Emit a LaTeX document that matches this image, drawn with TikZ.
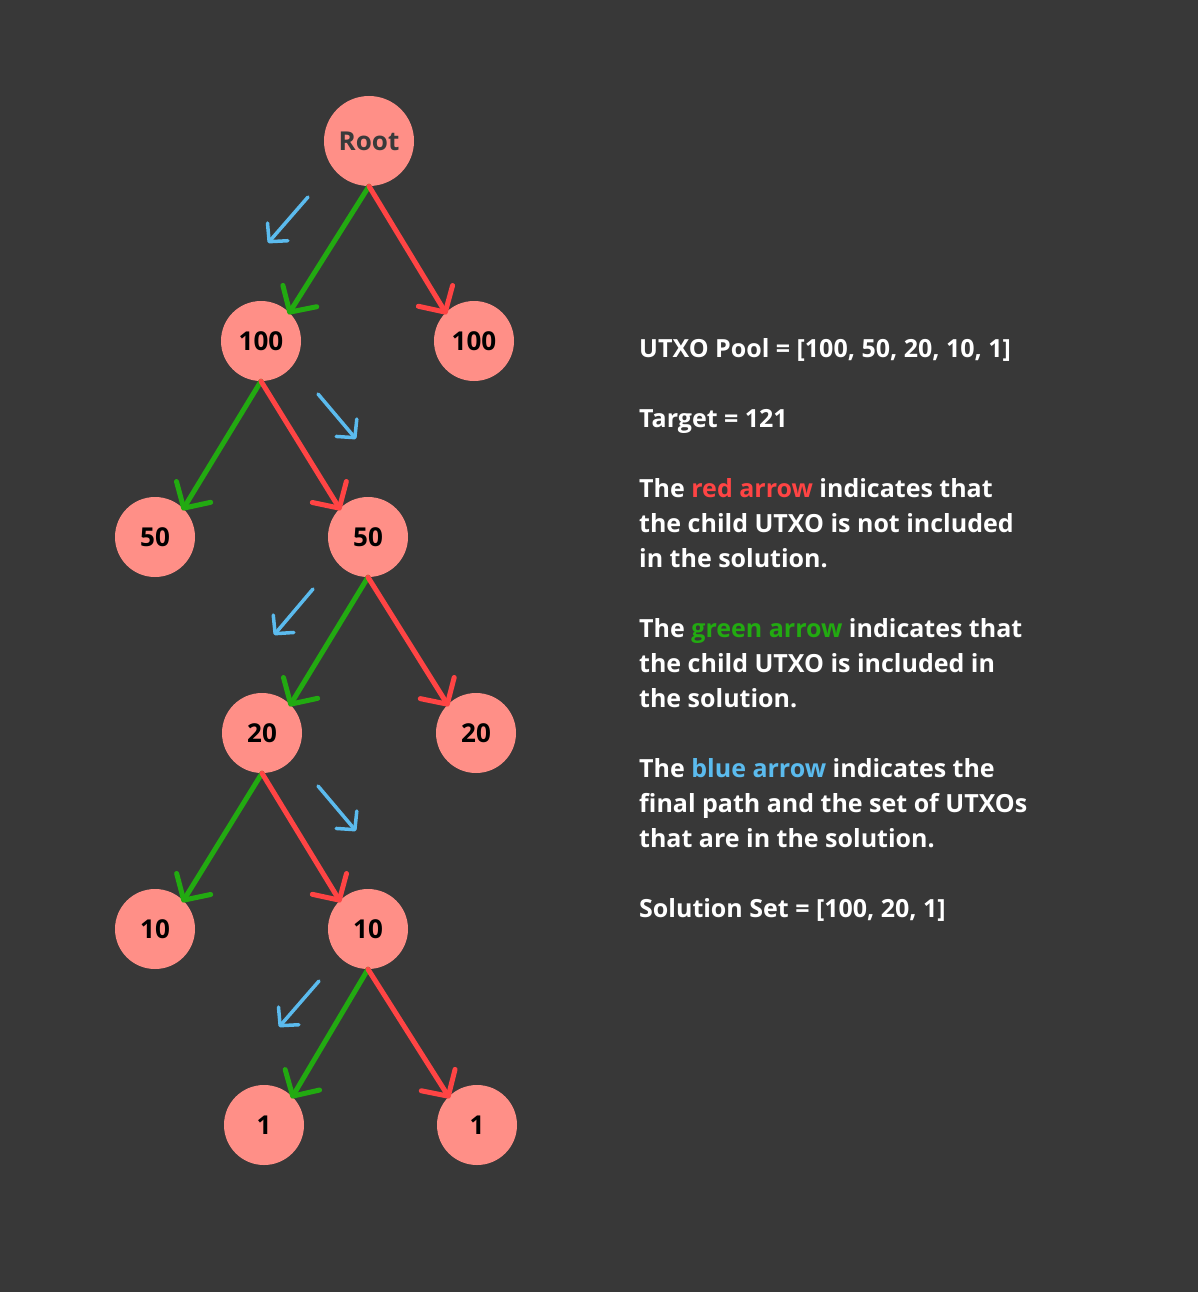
\documentclass[tikz,border=0pt]{standalone}
\usepackage{fontspec}
\setmainfont{Open Sans}
\usetikzlibrary{arrows.meta}
\definecolor{bg}{HTML}{383838}
\definecolor{nodefill}{HTML}{FF8F87}
\definecolor{gr}{HTML}{22AA11}
\definecolor{rd}{HTML}{FF4444}
\definecolor{bl}{HTML}{5BBBEE}
\definecolor{roottext}{HTML}{3A3A3A}
\begin{document}
\begin{tikzpicture}[x=1pt,y=-1pt,
  nd/.style={circle,fill=nodefill,minimum size=80pt,inner sep=0pt,font=\bfseries\fontsize{26}{30}\selectfont,text=black},
  tip/.style={-{Straight Barb[length=19pt,width=40pt,round]},line width=5pt,line cap=round,shorten >=-2pt},
  yes/.style={tip,draw=gr},
  no/.style={tip,draw=rd},
  path/.style={-{Straight Barb[length=13pt,width=27pt,round]},line width=3.5pt,line cap=round,draw=bl},
  txt/.style={anchor=north west,align=left,text=white,font=\bfseries\fontsize{25}{35}\selectfont,inner sep=0pt}]
\fill[bg] (0,0) rectangle (1198,1292);
\useasboundingbox (0,0) rectangle (1198,1292);
\node[nd,minimum size=90pt,text=roottext] (root) at (369,141) {Root};
\node[nd] (a1) at (261,341) {100};
\node[nd] (a2) at (474,341) {100};
\node[nd] (b1) at (155,537) {50};
\node[nd] (b2) at (368,537) {50};
\node[nd] (c1) at (262,733) {20};
\node[nd] (c2) at (476,733) {20};
\node[nd] (d1) at (155,929) {10};
\node[nd] (d2) at (368,929) {10};
\node[nd] (e1) at (264,1125) {1};
\node[nd] (e2) at (477,1125) {1};
\draw[yes] (root.south) -- (a1.north east);
\draw[no] (root.south) -- (a2.north west);
\draw[yes] (a1.south) -- (b1.north east);
\draw[no] (a1.south) -- (b2.north west);
\draw[yes] (b2.south) -- (c1.north east);
\draw[no] (b2.south) -- (c2.north west);
\draw[yes] (c1.south) -- (d1.north east);
\draw[no] (c1.south) -- (d2.north west);
\draw[yes] (d2.south) -- (e1.north east);
\draw[no] (d2.south) -- (e2.north west);
\coordinate (p1s) at (308,197); \coordinate (p1e) at (268,243);
\coordinate (p2s) at (318,394); \coordinate (p2e) at (356,439);
\coordinate (p3s) at (313,589); \coordinate (p3e) at (274,635);
\coordinate (p4s) at (318,786); \coordinate (p4e) at (356,831);
\coordinate (p5s) at (319,981); \coordinate (p5e) at (279,1027);
\draw[path] (p1s) -- (p1e);
\draw[path] (p2s) -- (p2e);
\draw[path] (p3s) -- (p3e);
\draw[path] (p4s) -- (p4e);
\draw[path] (p5s) -- (p5e);
\node[txt] (t) at (639,338) {UTXO Pool = [100, 50, 20, 10, 1]\\[35pt]
Target = 121\\[35pt]
The \textcolor{rd}{red arrow} indicates that\\
the child UTXO is not included\\
in the solution.\\[35pt]
The \textcolor{gr}{green arrow} indicates that\\
the child UTXO is included in\\
the solution.\\[35pt]
The \textcolor{bl}{blue arrow} indicates the\\
final path and the set of UTXOs\\
that are in the solution.\\[35pt]
Solution Set = [100, 20, 1]};
\end{tikzpicture}
\end{document}
